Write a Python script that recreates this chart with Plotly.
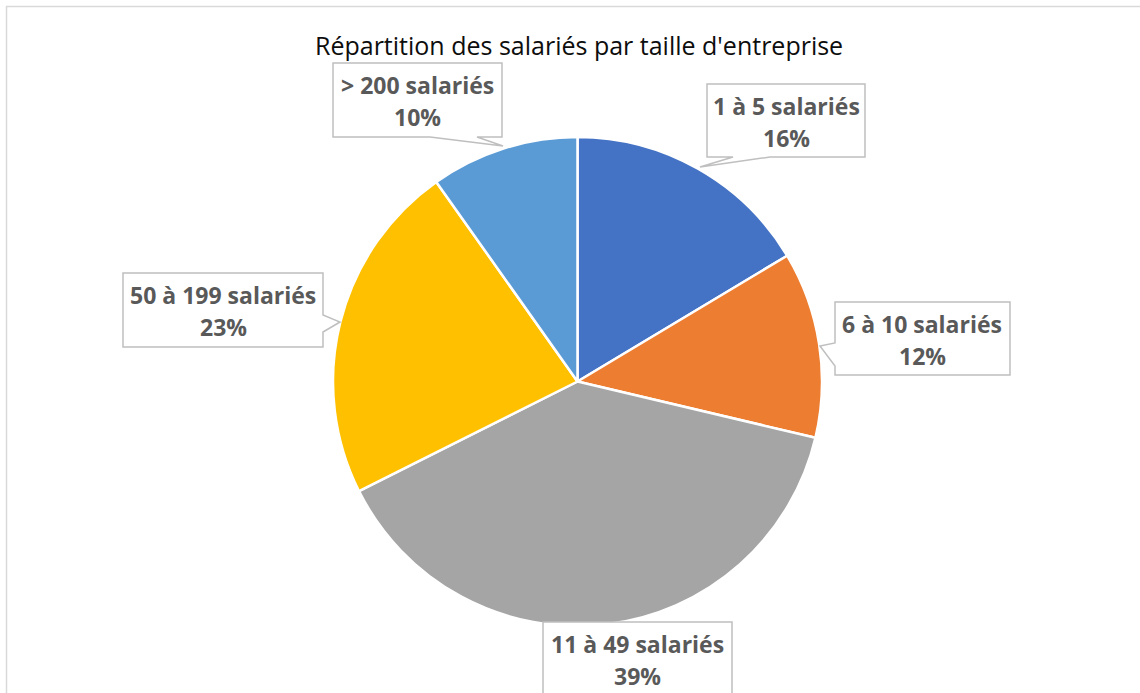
import plotly.graph_objects as go

# ---- data ----
categories = ["1 à 5 salariés", "6 à 10 salariés", "11 à 49 salariés",
              "50 à 199 salariés", "> 200 salariés"]
shares = [16.4, 12.3, 38.9, 22.6, 9.8]
colors = ["#4472C4", "#ED7D31", "#A5A5A5", "#FFC000", "#5B9BD5"]
title_text = "Répartition des salariés par taille d'entreprise"

W, H = 1140, 693


def px(x):
    return x / W


def py(y):
    return 1 - y / H


fig = go.Figure()
fig.add_trace(go.Pie(
    labels=categories,
    values=shares,
    sort=False,
    direction="clockwise",
    rotation=0,
    marker=dict(colors=colors, line=dict(color="white", width=2.5)),
    textinfo="none",
    hoverinfo="label+percent",
    showlegend=False,
    domain=dict(x=[px(333), px(822)], y=[py(626), py(137)]),
))

# callout layout (pixel geometry): box polygon points, text centre x, top y
callouts = {
    "1 à 5 salariés": dict(poly=[(707, 84), (865, 84), (865, 157), (770, 157), (700, 167), (733, 157), (707, 157)], cx=786, top=84),
    "6 à 10 salariés": dict(poly=[(835, 302), (1010, 302), (1010, 375), (835, 375), (835, 366), (820, 346), (835, 343)], cx=922, top=302),
    "11 à 49 salariés": dict(poly=[(543, 622), (732, 622), (732, 705), (543, 705)], cx=637, top=622),
    "50 à 199 salariés": dict(poly=[(123, 273), (323, 273), (323, 315), (340, 322), (323, 332), (323, 347), (123, 347)], cx=223, top=273),
    "> 200 salariés": dict(poly=[(333, 63), (502, 63), (502, 137), (477, 137), (503, 146), (430, 137), (333, 137)], cx=417.5, top=63),
}

shapes = [dict(type="rect", xref="paper", yref="paper",
               x0=px(6.5), x1=px(1150), y0=py(6.5), y1=py(710),
               line=dict(color="#D9D9D9", width=1.5), fillcolor="rgba(0,0,0,0)", layer="below")]
annotations = [dict(text=title_text, x=px(579), y=py(45), xref="paper", yref="paper",
                    showarrow=False, xanchor="center", yanchor="middle",
                    font=dict(family="Open Sans", size=25, color="#0d0d0d"))]

total = sum(shares)
for cat, val in zip(categories, shares):
    c = callouts[cat]
    path = "M " + " L ".join(f"{px(x):.5f},{py(y):.5f}" for x, y in c["poly"]) + " Z"
    shapes.append(dict(type="path", path=path, xref="paper", yref="paper",
                       line=dict(color="#BFBFBF", width=1.5), fillcolor="white", layer="above"))
    pct = f"{round(val / total * 100)}%"
    for txt, dy in ((cat, 22), (pct, 54)):
        annotations.append(dict(text=f"<b>{txt}</b>", x=px(c["cx"]), y=py(c["top"] + dy),
                                xref="paper", yref="paper", showarrow=False,
                                xanchor="center", yanchor="middle",
                                font=dict(family="Open Sans", size=23, color="#595959")))

fig.update_layout(
    width=W, height=H,
    margin=dict(l=0, r=0, t=0, b=0),
    paper_bgcolor="white", plot_bgcolor="white",
    shapes=shapes, annotations=annotations,
)

fig.write_html("out.html", config={"displayModeBar": False},
               post_script="document.body.style.margin='0';")
